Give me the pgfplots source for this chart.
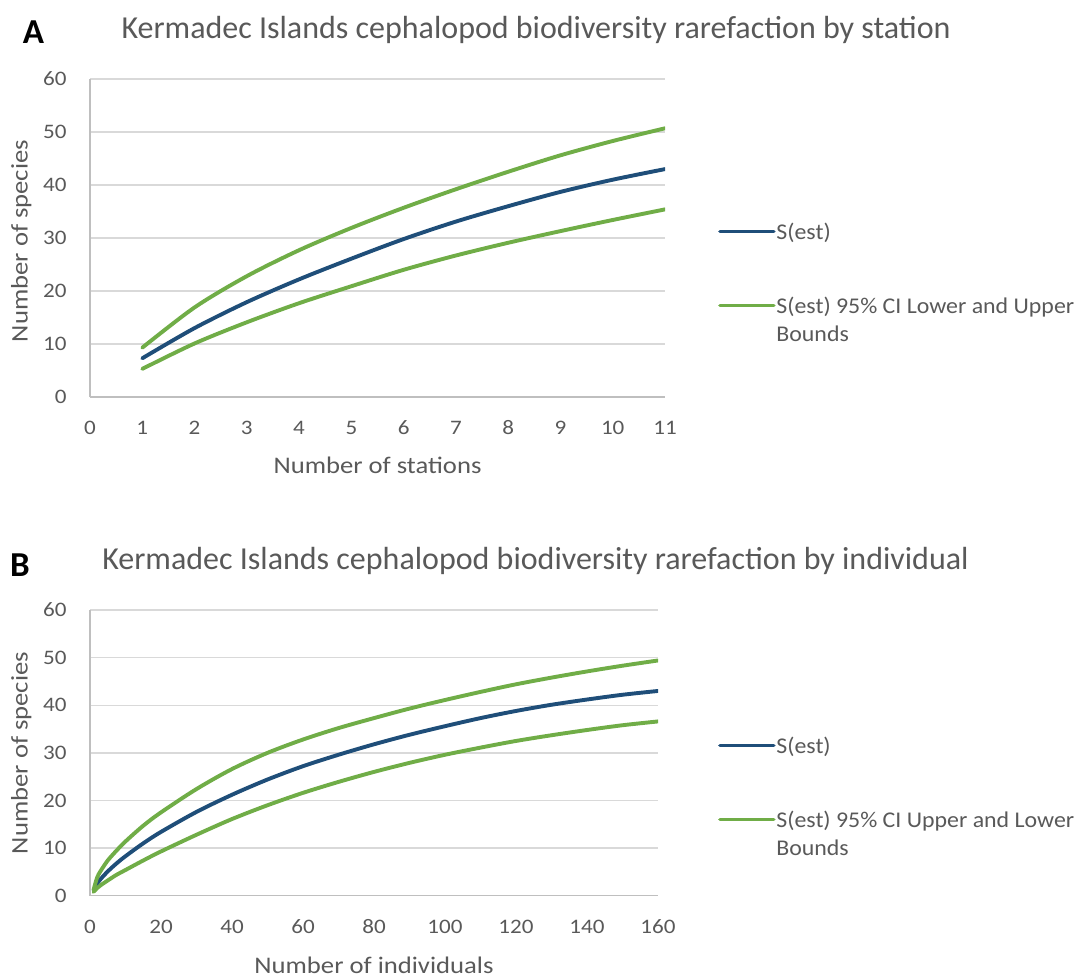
\documentclass[border=0pt]{standalone}
\usepackage{pgfplots}
\pgfplotsset{compat=1.18}
\usepackage{fontspec}
\setmainfont{Carlito}
\newfontfamily\wfont[FakeStretch=1.12]{Carlito}
\newfontfamily\lfont[FakeStretch=1.06]{Carlito}
\definecolor{txt}{HTML}{595959}
\definecolor{sblue}{HTML}{1F4E79}
\definecolor{sgreen}{HTML}{70AD47}
\definecolor{gridc}{HTML}{D9D9D9}
\definecolor{axl}{HTML}{BFBFBF}
\pgfplotsset{
  base/.style={
    scale only axis,
    axis lines=left,
    axis line style={draw=axl, line width=1.4pt, -},
    ymajorgrids,
    major grid style={draw=gridc, line width=1.4pt},
    major tick length=0pt,
    tick style={draw=none},
    /pgf/number format/assume math mode=true,
    tick label style={font=\wfont\fontsize{20.6}{24}\selectfont, text=txt},
    xticklabel style={anchor=base, inner sep=0pt, yshift=-37.5pt},
    yticklabel style={anchor=east, inner sep=0pt, xshift=-23.3pt},
    ymin=0, ymax=60, ytick={0,10,...,60},
    label style={font=\wfont\fontsize{23.8}{28}\selectfont, text=txt},
    title style={font=\fontsize{32}{38}\selectfont, text=txt, anchor=base, yshift=0pt},
    legend style={draw=none, fill=none, inner sep=0pt, row sep=53pt,
      column sep=0.8pt,
      font=\lfont\fontsize{22.5}{28}\selectfont, text=txt,
      cells={anchor=base west},
      nodes={inner sep=0pt}},
    legend image code/.code={\draw[##1, line width=3.4pt] (0pt,7.5pt) -- (54pt,7.5pt);},
    every axis plot/.append style={line width=3.9pt, line cap=round, line join=round, smooth},
  }
}
\begin{document}
\begin{tikzpicture}[x=1pt,y=1pt]
\useasboundingbox (0,0) rectangle (1086,-979);
% Panel A
\node[anchor=base west, inner sep=0pt, font=\fontsize{35}{40}\selectfont\bfseries] at (22.7,-44) {A};
\begin{axis}[base,
  at={(90pt,-397pt)}, anchor=south west,
  width=575pt, height=318pt,
  xmin=0, xmax=11, xtick={0,1,...,11},
  title={Kermadec Islands cephalopod biodiversity rarefaction by station},
  title style={at={(axis description cs:0.7757,1.1079)}},
  xlabel={Number of stations},
  xlabel style={at={(axis description cs:0.5,-0.2421)}, anchor=base},
  ylabel={Number of species},
  ylabel style={at={(axis description cs:-0.1083,0.4906)}, anchor=base},
  legend style={at={(axis description cs:1.0922,0.5487)}, anchor=north west},
]
\addplot[sblue] coordinates {(1,7.3)(2,13.0)(3,17.9)(4,22.2)(5,26.1)(6,29.8)(7,33.1)(8,36.0)(9,38.7)(10,41.0)(11,43.0)};
\addlegendentry{S(est)}
\addplot[sgreen] coordinates {(1,9.3)(2,16.9)(3,22.8)(4,27.7)(5,31.9)(6,35.7)(7,39.2)(8,42.5)(9,45.6)(10,48.3)(11,50.7)};
\addlegendentry{\begin{tabular}[t]{@{}l@{}}S(est) 95\% CI Lower and Upper\\Bounds\end{tabular}}
\addplot[sgreen, forget plot] coordinates {(1,5.3)(2,10.1)(3,14.1)(4,17.7)(5,20.9)(6,24.0)(7,26.7)(8,29.1)(9,31.3)(10,33.4)(11,35.4)};
\end{axis}
% Panel B
\node[anchor=base west, inner sep=0pt, font=\fontsize{35}{40}\selectfont\bfseries] at (10,-576) {B};
\begin{axis}[base,
  at={(90pt,-895.7pt)}, anchor=south west,
  width=568pt, height=285.7pt,
  xmin=0, xmax=160, xtick={0,20,...,160},
  title={Kermadec Islands cephalopod biodiversity rarefaction by individual},
  title style={at={(axis description cs:0.7843,1.1208)}},
  xlabel={Number of individuals},
  xlabel style={at={(axis description cs:0.5,-0.2716)}, anchor=base},
  ylabel={Number of species},
  ylabel style={at={(axis description cs:-0.1097,0.4995)}, anchor=base},
  legend style={at={(axis description cs:1.1056,0.5572)}, anchor=north west},
]
\addplot[sblue] coordinates {(1,1.0)(2,2.5)(3,3.5)(5,5.1)(7.5,6.8)(10,8.3)(15,11.0)(20,13.4)(30,17.6)(40,21.2)(50,24.4)(60,27.2)(70,29.6)(80,31.8)(90,33.8)(100,35.6)(110,37.3)(120,38.8)(130,40.1)(140,41.2)(150,42.2)(160,43.0)};
\addlegendentry{S(est)}
\addplot[sgreen] coordinates {(1,1.2)(2,3.8)(3,5.2)(5,7.4)(7.5,9.5)(10,11.4)(15,14.7)(20,17.5)(30,22.4)(40,26.6)(50,30.0)(60,32.8)(70,35.2)(80,37.3)(90,39.3)(100,41.1)(110,42.8)(120,44.4)(130,45.8)(140,47.1)(150,48.3)(160,49.4)};
\addlegendentry{\begin{tabular}[t]{@{}l@{}}S(est) 95\% CI Upper and Lower\\Bounds\end{tabular}}
\addplot[sgreen, forget plot] coordinates {(1,0.8)(2,1.6)(3,2.2)(5,3.2)(7.5,4.4)(10,5.4)(15,7.4)(20,9.3)(30,12.8)(40,16.1)(50,19.0)(60,21.6)(70,23.9)(80,26.0)(90,27.9)(100,29.6)(110,31.1)(120,32.5)(130,33.7)(140,34.8)(150,35.8)(160,36.6)};
\end{axis}
\end{tikzpicture}
\end{document}
